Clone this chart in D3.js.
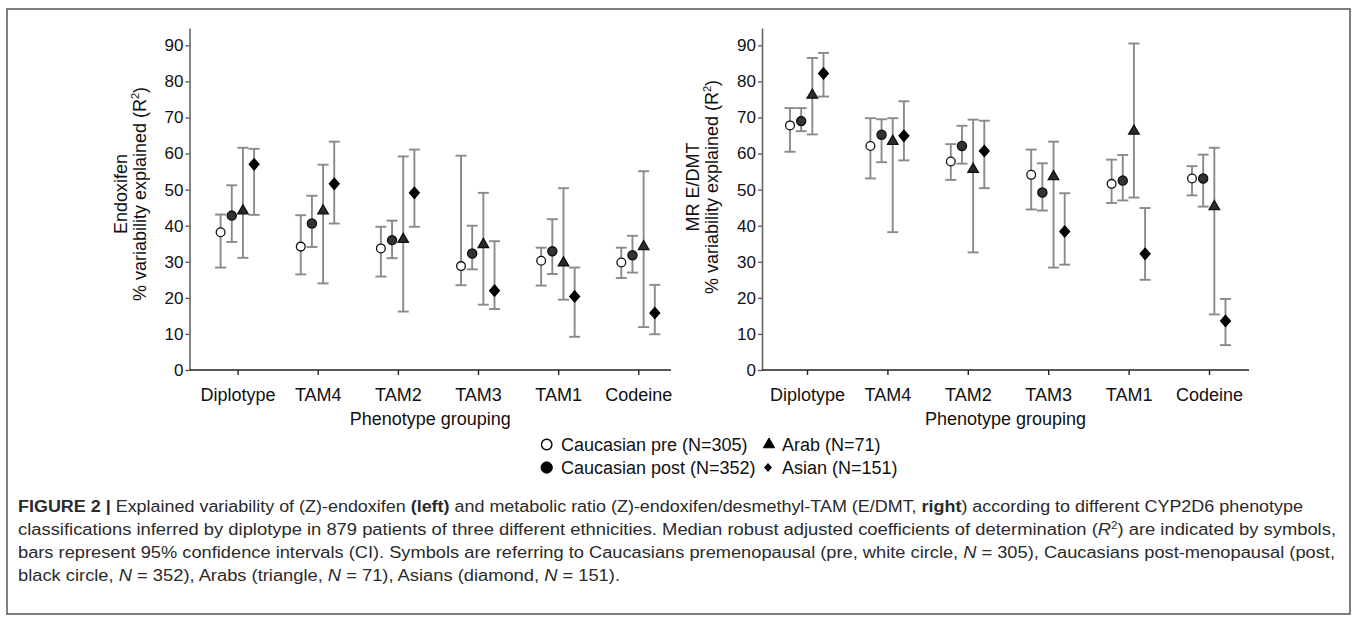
<!DOCTYPE html>
<html><head><meta charset="utf-8">
<script src="https://cdn.jsdelivr.net/npm/d3@7"></script>
<style>
body{margin:0;background:#fff;}
svg{display:block;font-family:"Liberation Sans",Arial,Helvetica,sans-serif;}
</style>
</head><body>
<svg id="c" width="1357" height="621"></svg>
<script>
// ---------- data ----------
const categories = ["Diplotype", "TAM4", "TAM2", "TAM3", "TAM1", "Codeine"];
const seriesKeys = ["pre", "post", "arab", "asian"];
const legendLabels = ["Caucasian pre (N=305)", "Caucasian post (N=352)", "Arab (N=71)", "Asian (N=151)"];
const yTicks = [0, 10, 20, 30, 40, 50, 60, 70, 80, 90];

// each entry: [median R2, lower 95% CI, upper 95% CI]
const endoxifenPre   = [[38.2,28.4,43.1],[34.2,26.5,42.9],[33.7,25.9,39.7],[28.8,23.5,59.4],[30.3,23.4,33.9],[29.8,25.5,33.9]];
const endoxifenPost  = [[42.8,35.5,51.2],[40.6,34.1,48.3],[36.0,31.0,41.4],[32.3,27.9,40.0],[32.9,26.6,41.8],[31.8,27.0,37.2]];
const endoxifenArab  = [[44.1,31.1,61.6],[44.1,24.0,56.9],[36.2,16.2,59.2],[34.8,18.1,49.1],[29.7,19.5,50.4],[34.2,11.9,55.1]];
const endoxifenAsian = [[57.0,43.0,61.3],[51.6,40.6,63.3],[49.1,39.7,61.1],[22.0,16.9,35.7],[20.4,9.2,28.4],[15.8,9.9,23.6]];

const mrPre   = [[67.8,60.5,72.6],[62.1,53.1,69.8],[57.8,52.7,62.6],[54.1,44.5,61.1],[51.6,46.3,58.3],[53.1,48.4,56.5]];
const mrPost  = [[69.0,66.2,72.6],[65.2,57.6,69.5],[62.1,57.2,67.7],[49.2,44.2,57.3],[52.5,47.0,59.6],[53.1,45.3,59.7]];
const mrArab  = [[76.2,65.3,86.5],[63.4,38.2,69.8],[55.6,32.6,69.4],[53.6,28.4,63.3],[66.2,47.8,90.5],[45.3,15.4,61.6]];
const mrAsian = [[82.2,75.8,87.9],[64.9,58.1,74.5],[60.7,50.4,69.1],[38.4,29.2,49.0],[32.2,25.0,44.9],[13.6,6.9,19.7]];

// ---------- layout ----------
const svg = d3.select("#c");

svg.append("rect").attr("x", 7).attr("y", 9).attr("width", 1343).attr("height", 605)
  .attr("fill", "none").attr("stroke", "#555").attr("stroke-width", 1.5);

const panels = [
  { series: [endoxifenPre, endoxifenPost, endoxifenArab, endoxifenAsian],
    axisX: 189.5, axisEnd: 671, first: 237.6, last: 638.3,
    title1: "Endoxifen", titleCY: 194 },
  { series: [mrPre, mrPost, mrArab, mrAsian],
    axisX: 762, axisEnd: 1249, first: 807, last: 1209,
    title1: "MR E/DMT", titleCY: 187 }
];

const y = d3.scaleLinear().domain([0, 94.8]).range([370, 28]);
const offset = d3.scalePoint().domain(seriesKeys).range([-17, 16.5]);

const diamond = { draw(ctx, size) { const w = 4.9, h = 5.6;
  ctx.moveTo(0, -h); ctx.lineTo(w, 0); ctx.lineTo(0, h); ctx.lineTo(-w, 0); ctx.closePath(); } };
const symStyle = {
  pre:   { type: d3.symbolCircle,   size: 60, fill: "#fff",   stroke: "#111" },
  post:  { type: d3.symbolCircle,   size: 66, fill: "#333",   stroke: "#111" },
  arab:  { type: d3.symbolTriangle, size: 48, fill: "#2b2b2b", stroke: "#111" },
  asian: { type: diamond,           size: 1,  fill: "#000",   stroke: "#000" }
};

panels.forEach(p => {
  const g = svg.append("g");
  const x = d3.scalePoint().domain(categories).range([p.first, p.last]);

  // y axis
  const ya = g.append("g").attr("transform", `translate(${p.axisX},0)`)
    .call(d3.axisLeft(y).tickValues(yTicks).tickSize(4).tickSizeOuter(0).tickPadding(2));
  ya.select(".domain").attr("stroke", "#666").attr("stroke-width", 1.6);
  ya.selectAll(".tick line").attr("stroke", "#555").attr("stroke-width", 1.3);
  ya.selectAll(".tick text").attr("font-size", 17).attr("fill", "#111")
    .attr("font-family", "Liberation Sans, Arial, sans-serif");

  // x axis
  const xa = g.append("g").attr("transform", `translate(0,${y(0)})`)
    .call(d3.axisBottom(x).tickSize(5).tickSizeOuter(0));
  xa.select(".domain").remove();
  xa.append("line").attr("x1", p.axisX).attr("x2", p.axisEnd).attr("y1", 0).attr("y2", 0)
    .attr("stroke", "#222").attr("stroke-width", 1.6);
  xa.selectAll(".tick line").attr("stroke", "#222").attr("stroke-width", 1.4);
  xa.selectAll(".tick text").attr("font-size", 18).attr("fill", "#111")
    .attr("y", 31).attr("dy", 0).attr("font-family", "Liberation Sans, Arial, sans-serif");

  // axis titles
  g.append("text").attr("x", (p.axisX + p.axisEnd) / 2).attr("y", 425)
    .attr("text-anchor", "middle").attr("font-size", 18).attr("fill", "#111")
    .text("Phenotype grouping");

  g.append("text").attr("transform", `translate(${p.axisX - 63},${p.titleCY}) rotate(-90)`)
    .attr("text-anchor", "middle").attr("font-size", 18).attr("fill", "#111").text(p.title1);
  const t2 = g.append("text").attr("transform", `translate(${p.axisX - 44},${p.titleCY}) rotate(-90)`)
    .attr("text-anchor", "middle").attr("font-size", 18).attr("fill", "#111");
  t2.append("tspan").text("% variability explained (R");
  t2.append("tspan").attr("dy", -7).attr("font-size", 11).text("2");
  t2.append("tspan").attr("dy", 7).text(")");

  // error bars
  p.series.forEach((arr, si) => {
    const key = seriesKeys[si];
    const pts = arr.map((d, i) => ({ cx: x(categories[i]) + offset(key), m: d[0], lo: d[1], hi: d[2] }));
    const eb = g.append("g").selectAll("g.eb").data(pts).join("g").attr("class", "eb")
      .attr("stroke", "#8a8a8a").attr("stroke-width", 1.9).attr("fill", "none");
    eb.append("line").attr("x1", d => d.cx).attr("x2", d => d.cx)
      .attr("y1", d => y(d.lo)).attr("y2", d => y(d.hi));
    eb.append("line").attr("x1", d => d.cx - 5.5).attr("x2", d => d.cx + 5.5)
      .attr("y1", d => y(d.lo)).attr("y2", d => y(d.lo));
    eb.append("line").attr("x1", d => d.cx - 5.5).attr("x2", d => d.cx + 5.5)
      .attr("y1", d => y(d.hi)).attr("y2", d => y(d.hi));
  });
  // markers
  p.series.forEach((arr, si) => {
    const key = seriesKeys[si];
    const st = symStyle[key];
    g.append("g").selectAll("path").data(arr).join("path")
      .attr("transform", (d, i) => `translate(${x(categories[i]) + offset(key)},${y(d[0])})`)
      .attr("d", d3.symbol().type(st.type).size(st.size))
      .attr("fill", st.fill).attr("stroke", st.stroke).attr("stroke-width", 1.3);
  });
});

// ---------- legend ----------
const legendPos = [
  { key: "pre",   sx: 546.7, tx: 561, by: 451 },
  { key: "post",  sx: 546.7, tx: 561, by: 474 },
  { key: "arab",  sx: 769,   tx: 782, by: 451 },
  { key: "asian", sx: 768,   tx: 782, by: 474 }
];
const legendSym = {
  pre:   { type: d3.symbolCircle, size: 85, fill: "#fff", stroke: "#000", sw: 1.4 },
  post:  { type: d3.symbolCircle, size: 100, fill: "#000", stroke: "#000", sw: 1 },
  arab:  { type: d3.symbolTriangle, size: 55, fill: "#000", stroke: "#000", sw: 1 },
  asian: { type: diamond, size: 1, fill: "#000", stroke: "#000", sw: 0 }
};
const lg = svg.append("g");
legendPos.forEach(l => {
  const st = legendSym[l.key];
  lg.append("path").attr("transform", `translate(${l.sx},${l.by - 6.5})${l.key === "asian" ? " scale(0.8)" : ""}`)
    .attr("d", d3.symbol().type(st.type).size(st.size))
    .attr("fill", st.fill).attr("stroke", st.stroke).attr("stroke-width", st.sw);
  lg.append("text").attr("x", l.tx).attr("y", l.by).attr("font-size", 18).attr("fill", "#111")
    .text(legendLabels[seriesKeys.indexOf(l.key)]);
});

// ---------- caption ----------
const capFont = "'Liberation Sans',Arial,sans-serif";
const captionLines = [
  { w: 1285, y: 512, parts: [["FIGURE 2 | ", "b"], ["Explained variability of (Z)-endoxifen ", ""], ["(left)", "b"], [" and metabolic ratio (Z)-endoxifen/desmethyl-TAM (E/DMT, ", ""], ["right", "b"], [") according to different CYP2D6 phenotype", ""]] },
  { w: 1318, y: 535, parts: [["classifications inferred by diplotype in 879 patients of three different ethnicities. Median robust adjusted coefficients of determination (", ""], ["R", "i"], ["2", "sup"], [") are indicated by symbols,", "after"]] },
  { w: 1317, y: 558, parts: [["bars represent 95% confidence intervals (CI). Symbols are referring to Caucasians premenopausal (pre, white circle, ", ""], ["N", "i"], [" = 305), Caucasians post-menopausal (post,", ""]] },
  { w: 602, y: 581, parts: [["black circle, ", ""], ["N", "i"], [" = 352), Arabs (triangle, ", ""], ["N", "i"], [" = 71), Asians (diamond, ", ""], ["N", "i"], [" = 151).", ""]] }
];
captionLines.forEach(line => {
  const t = svg.append("text").attr("x", 18).attr("y", line.y)
    .attr("font-family", capFont).attr("font-size", 16).attr("fill", "#2a2a2a")
    .attr("textLength", line.w).attr("lengthAdjust", "spacingAndGlyphs");
  line.parts.forEach(([txt, st]) => {
    const ts = t.append("tspan").text(txt);
    if (st === "b") ts.attr("font-weight", "bold");
    if (st === "i") ts.attr("font-style", "italic");
    if (st === "sup") ts.attr("font-size", 10).attr("dy", -6);
    if (st === "after") ts.attr("dy", 6);
  });
});
</script>
</body></html>
